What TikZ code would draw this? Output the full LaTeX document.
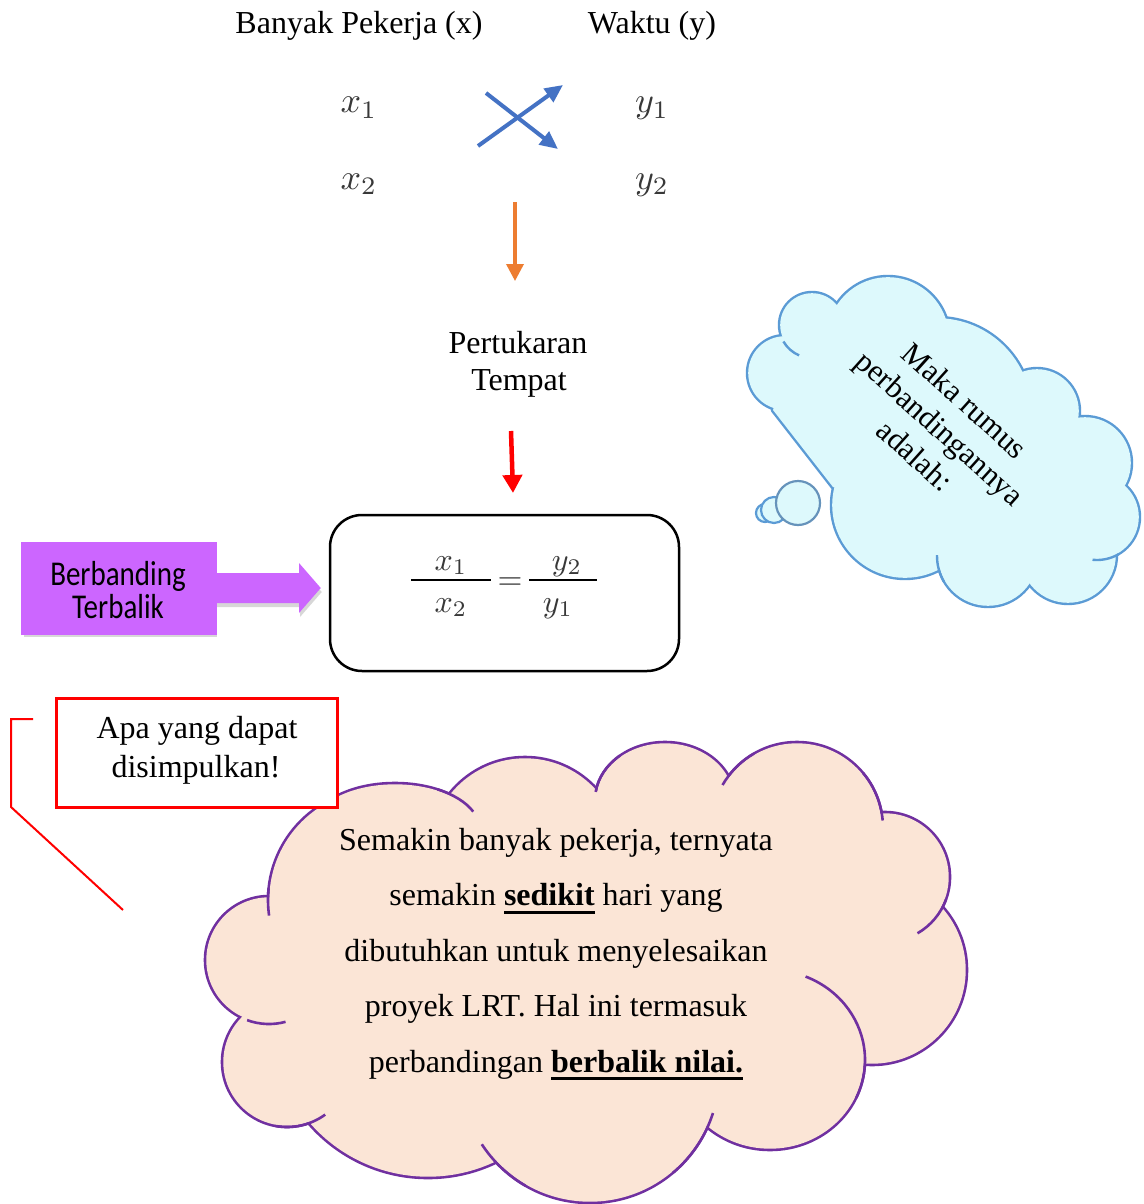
\documentclass[tikz,border=0pt]{standalone}
\usepackage{fontspec}
\setmainfont{Liberation Serif}
\newfontfamily\calfont{Carlito}
\usetikzlibrary{arrows.meta,shadows,calc}
\definecolor{xblue}{HTML}{4472C4}
\definecolor{xorange}{HTML}{ED7D31}
\definecolor{xpurp}{RGB}{204,102,255}
\definecolor{cloudfill}{HTML}{FBE5D6}
\definecolor{cloudline}{HTML}{7030A0}
\definecolor{bfill}{HTML}{DDF9FC}
\definecolor{bline}{HTML}{5B9BD5}
\definecolor{mathgray}{gray}{0.22}
\newcommand\thkul[1]{\setbox0\hbox{#1}\rlap{\vrule width\wd0 height -5pt depth 8pt}\box0\relax}
\newcommand\topmath[1]{\scalebox{3.6}{$#1$}}
\newcommand\frmath[1]{\scalebox{3.2}{$#1$}}
\begin{document}
\begin{tikzpicture}[x=1pt,y=-1pt,
  txt/.style={font=\fontsize{32}{38}\selectfont, inner sep=0pt, anchor=base},
  mth/.style={text=mathgray, inner sep=0pt, anchor=base},
  fmth/.style={text=mathgray, inner sep=0pt, anchor=base},
  crossarrow/.style={xblue, line width=4pt, -{Triangle[length=18pt,width=16pt]}},
  downarrow/.style={line width=3.5pt, -{Triangle[length=17pt,width=17pt]}},
  ctail/.style={cloudline, line width=2.6pt},
  btail/.style={bline, line width=2.4pt},
  ptxt/.style={font=\calfont\fontsize{29}{34}\selectfont, inner sep=0pt, anchor=base},
  pshadow/.style={drop shadow={shadow xshift=1pt, shadow yshift=-4pt, opacity=.22, fill=black!70}}
]
\useasboundingbox (0,0) rectangle (1143,1204);
\fill[white] (0,0) rectangle (1143,1204);

% ---------- top header ----------
\node[txt] (bp) at (359,34) {Banyak Pekerja (x)};
\node[txt] (wk) at (652,34) {Waktu (y)};

\node[mth] (xa) at (359,113) {\topmath{x_1}};
\node[mth] (xb) at (359,189) {\topmath{x_2}};
\node[mth] (ya) at (652,113) {\topmath{y_1}};
\node[mth] (yb) at (652,189) {\topmath{y_2}};

\coordinate (c1s) at (478,146);
\coordinate (c1e) at (563,85);
\coordinate (c2s) at (486,93);
\coordinate (c2e) at (558,149);
\draw[crossarrow] (c1s) -- (c1e);
\draw[crossarrow] (c2s) -- (c2e);

\coordinate (o1) at (515,202);
\coordinate (o2) at (515,281);
\draw[downarrow, xorange, line width=3.5pt, -{Triangle[length=17pt,width=17pt]}] (o1) -- (o2);

\node[txt] (pert) at (518,353) {Pertukaran};
\node[txt] (temp) at (519,390) {Tempat};

\coordinate (r1) at (511,431);
\coordinate (r2) at (513,493);
\draw[downarrow, red, line width=4.5pt, -{Triangle[length=18pt,width=19pt]}] (r1) -- (r2);

% ---------- equation box ----------
\node[draw=black, line width=2.5pt, rounded corners=32pt, minimum width=349pt, minimum height=156pt] (eqbox) at (504.5,593) {};
\node[fmth] (fx1) at (451,570) {\frmath{x_1}};
\node[fmth] (fx2) at (451,612) {\frmath{x_2}};
\node[fmth] (fy2) at (567,570) {\frmath{y_2}};
\node[fmth] (fy1) at (558,612) {\frmath{y_1}};
\node[text=mathgray, inner sep=0pt] (eq) at (510,584) {\frmath{=}};
\coordinate (b1a) at (411,580); \coordinate (b1b) at (491,580);
\coordinate (b2a) at (529,580); \coordinate (b2b) at (597,580);
\draw[line width=2.6pt] (b1a) -- (b1b);
\draw[line width=2.6pt] (b2a) -- (b2b);

% ---------- purple block arrow ----------
\node[fill=xpurp, draw=xpurp!40, line width=3pt, minimum width=193pt, minimum height=90pt, inner sep=0pt, pshadow] (bt) at (119,588) {};
\fill[xpurp, pshadow] ($(bt.east)+(-2,-15)$) -- ($(bt.east)+(82,-15)$) -- ($(bt.east)+(82,-25)$)
   -- ($(eqbox.west)+(-8,-5)$) -- ($(bt.east)+(82,25)$) -- ($(bt.east)+(82,15)$) -- ($(bt.east)+(-2,15)$) -- cycle;
\fill[xpurp] (bt.north west) rectangle (bt.south east);
\node[ptxt] (bt1) at (118,585) {\scalebox{1}[1.2]{Berbanding}};
\node[ptxt] (bt2) at (118,618) {\scalebox{1}[1.2]{Terbalik}};

% ---------- blue thought cloud ----------
\begin{scope}
\foreach \cx/\cy/\r in {785/373/38, 812/325/33, 888/338/62, 937/413/96, 1037/411/43, 1085/463/47, 1097/517/43, 1068/555/49, 988/556/51, 905/505/74}
  \fill[bline] (\cx,\cy) circle[radius=\r+1.2];
\filldraw[bline, line width=4.8pt, line join=round] (785,373) -- (812,325) -- (888,338) -- (1037,411) -- (1085,463) -- (1097,517) -- (1068,555) -- (988,556) -- (905,505) -- (833,487) -- (773,410) -- cycle;
\foreach \cx/\cy/\r in {785/373/38, 812/325/33, 888/338/62, 937/413/96, 1037/411/43, 1085/463/47, 1097/517/43, 1068/555/49, 988/556/51, 905/505/74}
  \fill[bfill] (\cx,\cy) circle[radius=\r-1.2];
\fill[bfill] (785,373) -- (812,325) -- (888,338) -- (1037,411) -- (1085,463) -- (1097,517) -- (1068,555) -- (988,556) -- (905,505) -- (833,487) -- (773,410) -- cycle;
\draw[btail] (812,325) ++(150:33) arc[start angle=150, end angle=113, radius=33];
\draw[btail] (1097,517) ++(60:43) arc[start angle=60, end angle=96, radius=43];
\draw[btail] (988,556) ++(150:51) arc[start angle=150, end angle=181, radius=51];
\end{scope}
\filldraw[fill=bfill, draw=bline, line width=2.2pt] (765,513) circle[radius=9];
\filldraw[fill=bfill, draw=bline, line width=2.2pt] (774,510) circle[radius=13];
\filldraw[fill=bfill, draw=bline!70!gray, line width=2.2pt] (798,503) circle[radius=22];
\node[font=\fontsize{31}{37}\selectfont, align=center, rotate=-42, inner sep=0pt] (maka) at (940,428) {Maka rumus\\perbandingannya\\adalah:};

% ---------- bottom cloud ----------
\begin{scope}
\clip (0,0) rectangle (1143,1204);
\foreach \cx/\cy/\r in {380/900/112, 525/854/97, 797/828/86, 885/877/65, 872/970/95, 590/1074/129, 428/1020/158, 287/1062/65, 269/960/64}
  \fill[cloudline] (\cx,\cy) circle[radius=\r+1.3];
\foreach \cx/\cy/\rx/\ry in {395/830/85/47, 665/800/70/58, 770/1060/95/90}
  \fill[cloudline] (\cx,\cy) ellipse[x radius=\rx+1.3, y radius=\ry+1.3];
\foreach \cx/\cy/\r in {380/900/112, 525/854/97, 797/828/86, 885/877/65, 872/970/95, 590/1074/129, 428/1020/158, 287/1062/65, 269/960/64}
  \fill[cloudfill] (\cx,\cy) circle[radius=\r-1.3];
\foreach \cx/\cy/\rx/\ry in {395/830/85/47, 665/800/70/58, 770/1060/95/90}
  \fill[cloudfill] (\cx,\cy) ellipse[x radius=\rx-1.3, y radius=\ry-1.3];
\fill[cloudfill] (380,900) -- (395,830) -- (525,854) -- (665,800) -- (797,828) -- (885,877) -- (872,970) -- (770,1060) -- (590,1074) -- (428,1020) -- (287,1062) -- (269,960) -- cycle;
\draw[ctail] (380,900) ++(186:112) arc[start angle=186, end angle=172, radius=112];
\draw[ctail] (395,830) ++(-60:85 and 47) arc[start angle=-60, end angle=-23, x radius=85, y radius=47];
\draw[ctail] (665,800) ++(230:70 and 58) arc[start angle=230, end angle=188, x radius=70, y radius=58];
\draw[ctail] (797,828) ++(240:86) arc[start angle=240, end angle=210, radius=86];
\draw[ctail] (797,828) ++(-40:86) arc[start angle=-40, end angle=-5, radius=86];
\draw[ctail] (885,877) ++(20:65) arc[start angle=20, end angle=60, radius=65];
\draw[ctail] (770,1060) ++(-68:95 and 90) arc[start angle=-68, end angle=25, x radius=95, y radius=90];
\draw[ctail] (590,1074) ++(50:129) arc[start angle=50, end angle=17.6, radius=129];
\draw[ctail] (590,1074) ++(120:129) arc[start angle=120, end angle=147, radius=129];
\draw[ctail] (287,1062) ++(100:65) arc[start angle=100, end angle=54, radius=65];
\draw[ctail] (269,960) ++(110:64) arc[start angle=110, end angle=75, radius=64];
\end{scope}
\node[txt] (l1) at (556,850) {Semakin banyak pekerja, ternyata};
\node[txt] (l2) at (556,905.5) {semakin \thkul{\textbf{sedikit}} hari yang};
\node[txt] (l3) at (556,961) {dibutuhkan untuk menyelesaikan};
\node[txt] (l4) at (556,1016.5) {proyek LRT. Hal ini termasuk};
\node[txt] (l5) at (556,1072) {perbandingan \thkul{\textbf{berbalik nilai.}}};

% ---------- red callout ----------
\node[draw=red, fill=white, line width=2.2pt, minimum width=281pt, minimum height=109pt, inner sep=0pt] (apa) at (197,753) {};
\node[txt] (apa1) at (197,738) {Apa yang dapat};
\node[txt] (apa2) at (196,777) {disimpulkan!};
\coordinate (k1) at (33,719);
\coordinate (k2) at (11,719);
\coordinate (k3) at (11,807);
\coordinate (k4) at (123,910);
\draw[red, line width=2pt] (k1) -- (k2) -- (k3) -- (k4);
\end{tikzpicture}
\end{document}
